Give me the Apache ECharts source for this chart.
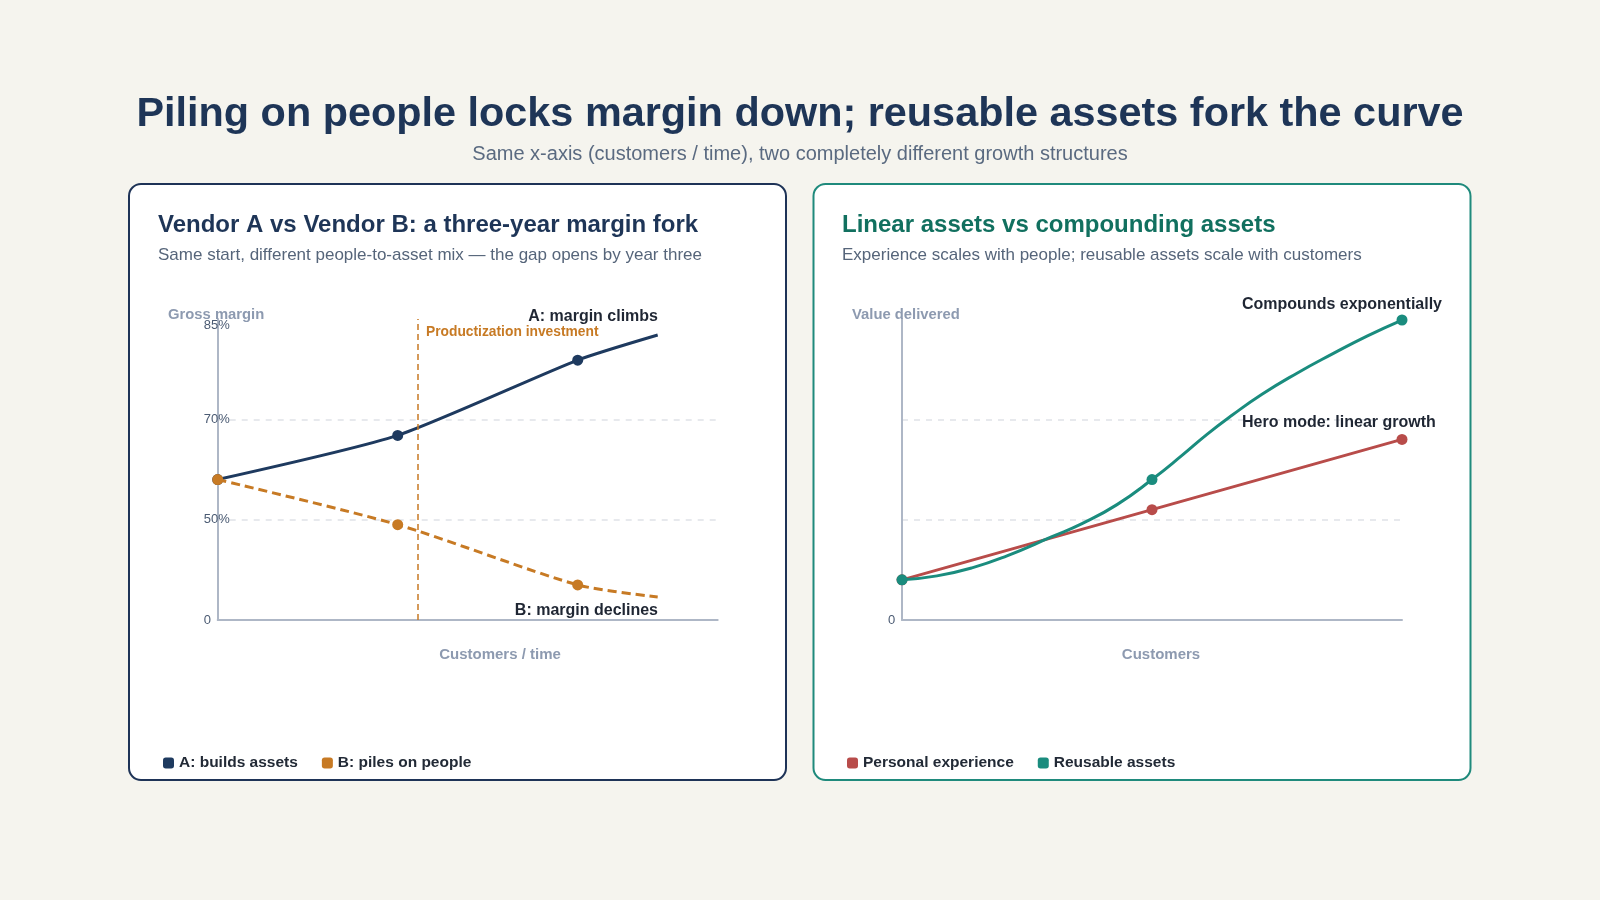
<!DOCTYPE html>
<html>
<head>
<meta charset="utf-8">
<script src="https://cdn.jsdelivr.net/npm/echarts@6/dist/echarts.min.js"></script>
<style>
html,body{margin:0;padding:0;background:#f5f4ee;}
#chart{width:1600px;height:900px;}
</style>
</head>
<body>
<div id="chart"></div>
<script>
// ---- Left panel data (x: customers / time, y: margin index) ----
const leftX = [0, 36, 72, 88];
const vendorA = [1.40, 1.84, 2.59, 2.84];
const vendorB = [1.40, 0.95, 0.35, 0.23];
const leftMarked = [true, true, true, false];
const leftYTicks = ['0', '50%', '70%', '85%'];
const investmentX = 40;

// ---- Right panel data ----
const personalX = [0, 50, 100];
const personal = [0.40, 1.10, 1.80];
const reusableX = [0, 7, 14, 21, 30, 36, 43, 50, 56, 61, 66, 72, 79, 86, 93, 100];
const reusable = [0.40, 0.44, 0.52, 0.64, 0.83, 0.96, 1.15, 1.40, 1.64, 1.85, 2.04, 2.25, 2.46, 2.65, 2.83, 2.99];
const reusableMarkedX = [0, 50, 100];
const rightYTicks = ['0', '', '', ''];

const NAVY = '#1e3a5f', ORANGE = '#c77a24', RED = '#b84c4a', TEAL = '#1a8c7e';
const FONT = '"Liberation Sans", Arial, Helvetica, sans-serif';

function pairs(xs, ys) { return xs.map((x, i) => [x, ys[i]]); }

const axisLine = { show: true, lineStyle: { color: '#aeb7c6', width: 2 } };
const gridSplit = {
  show: true,
  lineStyle: { color: ['rgba(0,0,0,0)', '#dfe2e8', '#dfe2e8', 'rgba(0,0,0,0)'], type: [6, 6], width: 1.5 }
};

function yAxisFor(idx, ticks) {
  return {
    gridIndex: idx, type: 'value', min: 0, max: 3, interval: 1,
    axisLine: axisLine, axisTick: { show: false }, splitLine: gridSplit,
    axisLabel: {
      show: true, align: 'left', margin: 14, color: '#4b5b73', fontSize: 13, fontFamily: FONT,
      formatter: function (v) {
        const t = ticks[Math.round(v)];
        if (!t) return '';
        return Math.round(v) === 3 ? '{top|' + t + '}' : t;
      },
      rich: { top: { padding: [12, 0, 0, 0], color: '#4b5b73', fontSize: 13, fontFamily: FONT } }
    }
  };
}
function xAxisFor(idx) {
  return {
    gridIndex: idx, type: 'value', min: 0, max: 100,
    axisLine: axisLine, axisTick: { show: false }, axisLabel: { show: false }, splitLine: { show: false }
  };
}

function txt(text, x, y, size, color, weight, align) {
  return {
    type: 'text', x: x, y: y, z: 50,
    style: { text: text, fontSize: size, fontWeight: weight || 'normal', fontFamily: FONT,
             fill: color, align: align || 'left', verticalAlign: 'middle' }
  };
}

const chart = echarts.init(document.getElementById('chart'), null, { renderer: 'canvas' });

const legendText = { fontSize: 15.5, fontWeight: 'bold', color: '#222a36', fontFamily: FONT };

const option = {
  animation: false,
  backgroundColor: '#f5f4ee',
  grid: [
    { left: 217.7, top: 319, width: 500, height: 301 },
    { left: 902, top: 319, width: 500, height: 301 }
  ],
  xAxis: [xAxisFor(0), xAxisFor(1)],
  yAxis: [yAxisFor(0, leftYTicks), yAxisFor(1, rightYTicks)],
  legend: [
    {
      data: ['A: builds assets', 'B: piles on people'],
      left: 158, top: 750, icon: 'roundRect', itemWidth: 11, itemHeight: 11, itemGap: 24,
      textStyle: legendText, itemStyle: { borderWidth: 0 }, selectedMode: false
    },
    {
      data: ['Personal experience', 'Reusable assets'],
      left: 842, top: 750, icon: 'roundRect', itemWidth: 11, itemHeight: 11, itemGap: 24,
      textStyle: legendText, itemStyle: { borderWidth: 0 }, selectedMode: false
    }
  ],
  series: [
    {
      name: 'A: builds assets', type: 'line', xAxisIndex: 0, yAxisIndex: 0,
      data: pairs(leftX, vendorA), smooth: 0.2, symbol: 'circle',
      symbolSize: function (v, p) { return leftMarked[p.dataIndex] ? 11 : 0; },
      lineStyle: { color: NAVY, width: 3 }, itemStyle: { color: NAVY }, z: 3
    },
    {
      name: 'B: piles on people', type: 'line', xAxisIndex: 0, yAxisIndex: 0,
      data: pairs(leftX, vendorB), smooth: 0.25, symbol: 'circle',
      symbolSize: function (v, p) { return leftMarked[p.dataIndex] ? 11 : 0; },
      lineStyle: { color: ORANGE, width: 3, type: [9, 5] }, itemStyle: { color: ORANGE }, z: 4,
      markLine: {
        silent: true, symbol: ['none', 'none'], label: { show: false },
        lineStyle: { color: ORANGE, width: 1.5, type: [6, 4] },
        data: [{ xAxis: investmentX }]
      }
    },
    {
      name: 'Personal experience', type: 'line', xAxisIndex: 1, yAxisIndex: 1,
      data: pairs(personalX, personal), symbol: 'circle', symbolSize: 11,
      lineStyle: { color: RED, width: 3 }, itemStyle: { color: RED }, z: 3
    },
    {
      name: 'Reusable assets', type: 'line', xAxisIndex: 1, yAxisIndex: 1,
      data: pairs(reusableX, reusable), smooth: 0.5, symbol: 'circle',
      symbolSize: function (v) { return reusableMarkedX.indexOf(v[0]) >= 0 ? 11 : 0; },
      lineStyle: { color: TEAL, width: 3 }, itemStyle: { color: TEAL }, z: 4
    }
  ],
  graphic: [
    { type: 'rect', z: -10, shape: { x: 129, y: 184, width: 657, height: 596, r: 12 },
      style: { fill: '#ffffff', stroke: '#1e3357', lineWidth: 2 } },
    { type: 'rect', z: -10, shape: { x: 813.5, y: 184, width: 657, height: 596, r: 12 },
      style: { fill: '#ffffff', stroke: '#1f8a7c', lineWidth: 2 } },
    txt('Piling on people locks margin down; reusable assets fork the curve', 800, 115, 41.4, '#1e3557', 'bold', 'center'),
    txt('Same x-axis (customers / time), two completely different growth structures', 800, 154, 20, '#5a6a80', 'normal', 'center'),
    txt('Vendor A vs Vendor B: a three-year margin fork', 158, 225, 24, '#1e3557', 'bold'),
    txt('Same start, different people-to-asset mix \u2014 the gap opens by year three', 158, 255, 17, '#56657a'),
    txt('Linear assets vs compounding assets', 842, 225, 24, '#11705f', 'bold'),
    txt('Experience scales with people; reusable assets scale with customers', 842, 255, 17, '#56657a'),
    txt('Gross margin', 168, 315, 14.8, '#8d9ab0', 'bold'),
    txt('Value delivered', 852, 315, 14.8, '#8d9ab0', 'bold'),
    txt('Customers / time', 500, 655, 15, '#8d9ab0', 'bold', 'center'),
    txt('Customers', 1161, 655, 15, '#8d9ab0', 'bold', 'center'),
    txt('A: margin climbs', 658, 317, 16, '#1f2633', 'bold', 'right'),
    txt('Productization investment', 426, 332, 13.8, ORANGE, 'bold'),
    txt('B: margin declines', 658, 611, 16, '#1f2633', 'bold', 'right'),
    txt('Compounds exponentially', 1242, 305, 16, '#1f2633', 'bold'),
    txt('Hero mode: linear growth', 1242, 423, 16, '#1f2633', 'bold')
  ]
};
chart.setOption(option);
</script>
</body>
</html>
